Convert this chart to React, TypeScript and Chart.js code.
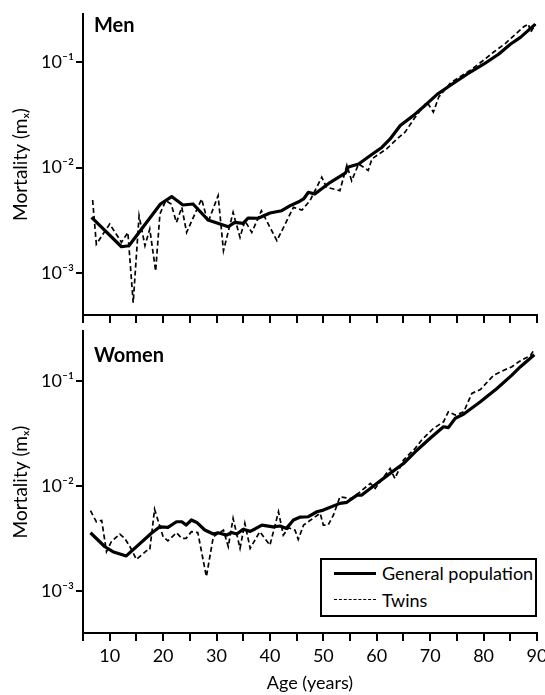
import React, { useEffect, useRef } from 'react';
import { Chart, registerables } from 'chart.js';

Chart.register(...registerables);

// ---- Data ----
const menPopAge = [6.6, 12.2, 13.6, 19.5, 21.6, 23.7, 25.6, 28.4, 32.2, 33.4, 35.0, 35.9, 37.8, 40.0, 42.2, 43.8, 45.6, 46.3, 47.2, 48.4, 51.3, 54.1, 54.7, 56.6, 58.8, 61.0, 62.5, 64.4, 66.9, 69.4, 71.3, 73.8, 76.9, 80.0, 82.8, 85.0, 86.9, 89.7];
const menPopRate = [0.00336, 0.00177, 0.00181, 0.00451, 0.0053, 0.00441, 0.00451, 0.00318, 0.00274, 0.00302, 0.00295, 0.00332, 0.0033, 0.0037, 0.00389, 0.00435, 0.00479, 0.00503, 0.00582, 0.0056, 0.00724, 0.00883, 0.0101, 0.0108, 0.013, 0.0156, 0.0187, 0.0251, 0.0313, 0.0404, 0.0495, 0.0604, 0.0769, 0.0957, 0.119, 0.148, 0.172, 0.23];

const menTwinAge = [6.8, 7.5, 10.0, 12.2, 13.4, 14.4, 15.5, 16.6, 17.5, 18.6, 19.4, 20.5, 21.5, 22.5, 23.5, 24.4, 27.2, 28.4, 30.3, 31.3, 33.1, 34.4, 35.3, 36.6, 38.4, 41.3, 44.4, 46.0, 47.5, 49.7, 50.6, 53.1, 54.4, 55.3, 56.6, 58.4, 59.1, 61.9, 63.8, 65.3, 67.2, 69.4, 70.6, 71.6, 73.8, 77.5, 80.0, 81.9, 84.1, 87.5, 88.4, 88.8, 89.7];
const menTwinRate = [0.00492, 0.00187, 0.00291, 0.00195, 0.00242, 0.00052, 0.00349, 0.00181, 0.00261, 0.00104, 0.00362, 0.00485, 0.0045, 0.00301, 0.00419, 0.00242, 0.00503, 0.00301, 0.00541, 0.00162, 0.00376, 0.00217, 0.00313, 0.00242, 0.00389, 0.00202, 0.00419, 0.00395, 0.00485, 0.0081, 0.0065, 0.00604, 0.0105, 0.0075, 0.0108, 0.0094, 0.0121, 0.0151, 0.0187, 0.0217, 0.0301, 0.0419, 0.0336, 0.0467, 0.0636, 0.0839, 0.1045, 0.125, 0.151, 0.217, 0.23, 0.192, 0.23];

const womenPopAge = [6.4, 9.1, 10.6, 13.1, 17.8, 19.4, 20.9, 22.5, 23.5, 24.3, 25.3, 26.3, 27.8, 29.4, 30.3, 31.9, 32.8, 33.8, 35.0, 36.3, 37.2, 38.5, 40.6, 41.9, 43.1, 44.4, 45.6, 47.2, 48.8, 50.0, 53.1, 54.4, 56.3, 57.2, 60.0, 62.5, 65.0, 67.2, 70.0, 72.5, 73.4, 74.7, 76.3, 79.4, 82.5, 85.3, 86.9, 89.5];
const womenPopRate = [0.00359, 0.00264, 0.00237, 0.00216, 0.00355, 0.00409, 0.00404, 0.00457, 0.00457, 0.00425, 0.00475, 0.0045, 0.00381, 0.00349, 0.00359, 0.00341, 0.00361, 0.00349, 0.00387, 0.0037, 0.0039, 0.00425, 0.00409, 0.00416, 0.00395, 0.00475, 0.00505, 0.0051, 0.00569, 0.0059, 0.00684, 0.007, 0.0082, 0.0082, 0.0106, 0.0132, 0.0164, 0.0212, 0.0285, 0.0367, 0.036, 0.0442, 0.0485, 0.0635, 0.0851, 0.114, 0.137, 0.178];

const womenTwinAge = [6.4, 7.5, 8.5, 9.4, 10.3, 11.9, 12.8, 13.8, 15.0, 16.9, 17.5, 18.4, 20.0, 20.9, 22.5, 23.5, 24.3, 25.3, 26.5, 28.1, 29.4, 31.3, 32.2, 33.1, 34.4, 35.3, 36.3, 38.1, 40.0, 41.6, 42.5, 43.5, 44.7, 45.3, 46.3, 49.4, 50.0, 50.9, 51.9, 53.1, 55.3, 56.9, 58.8, 59.7, 62.5, 63.4, 65.0, 67.2, 68.4, 70.6, 72.5, 73.4, 74.7, 76.3, 77.8, 79.4, 81.9, 83.8, 85.3, 86.6, 88.8, 89.4];
const womenTwinRate = [0.00582, 0.00457, 0.0047, 0.00237, 0.00295, 0.00349, 0.00318, 0.00264, 0.002, 0.00242, 0.00246, 0.006, 0.00329, 0.00301, 0.00359, 0.00318, 0.00318, 0.00367, 0.0036, 0.00137, 0.00329, 0.0038, 0.00264, 0.00492, 0.00255, 0.00441, 0.00255, 0.00367, 0.00274, 0.00569, 0.00341, 0.004, 0.0038, 0.0031, 0.00425, 0.0055, 0.00425, 0.00425, 0.0053, 0.0079, 0.0076, 0.00883, 0.0106, 0.0095, 0.0147, 0.0118, 0.0177, 0.0229, 0.0274, 0.0354, 0.0409, 0.051, 0.0474, 0.051, 0.0764, 0.083, 0.114, 0.127, 0.137, 0.153, 0.176, 0.197];

const yTickValues = [0.001, 0.01, 0.1];
const yTickLabels = ['10⁻³', '10⁻²', '10⁻¹'];
const xTickLabelValues = [10, 20, 30, 40, 50, 60, 70, 80, 90];
const seriesNames = ['General population', 'Twins'];

const FONT = 'Lato, "DejaVu Sans", sans-serif';

function pts(xs: number[], ys: number[]) {
  return xs.map((x, i) => ({ x, y: ys[i] }));
}

function makeConfig(popX: number[], popY: number[], twX: number[], twY: number[], bottom: boolean, canvasH: number, topPad: number, areaBottom: number, yMax: number): any {
  return {
    type: 'line',
    data: {
      datasets: [
        { label: seriesNames[0], data: pts(popX, popY), borderColor: '#000', borderWidth: 3.2, pointRadius: 0, tension: 0, fill: false, borderJoinStyle: 'round' },
        { label: seriesNames[1], data: pts(twX, twY), borderColor: '#000', borderWidth: 1.7, borderDash: [5, 3], pointRadius: 0, tension: 0, fill: false },
      ],
    },
    options: {
      animation: false,
      responsive: false,
      maintainAspectRatio: false,
      layout: { padding: { top: topPad, right: 8, bottom: 0, left: 0 } },
      plugins: { legend: { display: false }, tooltip: { enabled: false }, title: { display: false } },
      scales: {
        x: {
          type: 'linear',
          min: 5,
          max: 90,
          afterBuildTicks: (s: any) => {
            const t = [];
            for (let v = 5; v <= 90; v += 5) t.push({ value: v });
            s.ticks = t;
          },
          ticks: {
            autoSkip: false,
            maxRotation: 0,
            padding: 4,
            color: '#000',
            font: { family: FONT, size: 18 },
            callback: (v: any) => (bottom && xTickLabelValues.includes(Number(v)) ? String(v) : ''),
          },
          grid: { display: true, drawOnChartArea: false, drawTicks: true, tickLength: 8, color: '#000', lineWidth: 2 },
          border: { display: true, color: '#000', width: 2 },
          title: bottom
            ? { display: true, text: 'Age (years)', color: '#000', font: { family: FONT, size: 18 }, padding: { top: 0, bottom: 1 } }
            : { display: false },
          afterFit: (s: any) => {
            s.height = canvasH - areaBottom;
            s.paddingLeft = 0;
            s.paddingRight = 0;
          },
        },
        y: {
          type: 'logarithmic',
          min: Math.pow(10, -3.4),
          max: yMax,
          afterBuildTicks: (s: any) => {
            s.ticks = yTickValues.map((v) => ({ value: v }));
          },
          ticks: {
            autoSkip: false,
            padding: 2,
            color: '#000',
            font: { family: FONT, size: 18 },
            callback: (v: any) => {
              const i = yTickValues.findIndex((t) => Math.abs(t - Number(v)) / t < 1e-6);
              return i >= 0 ? yTickLabels[i] : '';
            },
          },
          grid: { display: true, drawOnChartArea: false, drawTicks: true, tickLength: 7, color: '#000', lineWidth: 2 },
          border: { display: true, color: '#000', width: 2 },
          title: { display: true, text: 'Mortality (mₓ)', color: '#000', font: { family: FONT, size: 19 }, padding: { top: 9, bottom: 0 } },
          afterFit: (s: any) => {
            s.width = 83;
            s.paddingTop = 0;
            s.paddingBottom = 0;
          },
        },
      },
    },
  };
}

export default function App() {
  const topRef = useRef<HTMLCanvasElement | null>(null);
  const botRef = useRef<HTMLCanvasElement | null>(null);

  useEffect(() => {
    const c1 = new Chart(topRef.current as HTMLCanvasElement, makeConfig(menPopAge, menPopRate, menTwinAge, menTwinRate, false, 340, 14, 315, 0.287));
    const c2 = new Chart(botRef.current as HTMLCanvasElement, makeConfig(womenPopAge, womenPopRate, womenTwinAge, womenTwinRate, true, 370, 6, 308, 0.3));
    return () => {
      c1.destroy();
      c2.destroy();
    };
  }, []);

  const panelTitle: React.CSSProperties = {
    position: 'absolute',
    left: 94,
    fontFamily: FONT,
    fontWeight: 700,
    fontSize: 20,
    lineHeight: '20px',
    color: '#000',
    whiteSpace: 'nowrap',
  };
  const legendText: React.CSSProperties = {
    position: 'absolute',
    left: 60,
    fontFamily: FONT,
    fontSize: 18,
    lineHeight: '20px',
    color: '#000',
    whiteSpace: 'nowrap',
  };

  return (
    <div style={{ position: 'absolute', left: 0, top: 0, width: 545, height: 695, background: '#fff', overflow: 'hidden' }}>
      <canvas ref={topRef} width={545} height={340} style={{ position: 'absolute', left: 0, top: 0, width: 545, height: 340 }} />
      <canvas ref={botRef} width={545} height={370} style={{ position: 'absolute', left: 0, top: 325, width: 545, height: 370 }} />
      <div style={{ ...panelTitle, top: 14 }}>Men</div>
      <div style={{ ...panelTitle, top: 344 }}>Women</div>
      <div style={{ position: 'absolute', left: 320, top: 558, width: 217, height: 59, border: '2px solid #000', boxSizing: 'border-box', background: '#fff' }}>
        <div style={{ position: 'absolute', left: 12, top: 12, width: 42, borderTop: '3px solid #000' }} />
        <div style={{ ...legendText, top: 3 }}>{seriesNames[0]}</div>
        <div style={{ position: 'absolute', left: 12, top: 39, width: 42, borderTop: '1.5px dashed #000' }} />
        <div style={{ ...legendText, top: 30 }}>{seriesNames[1]}</div>
      </div>
    </div>
  );
}
